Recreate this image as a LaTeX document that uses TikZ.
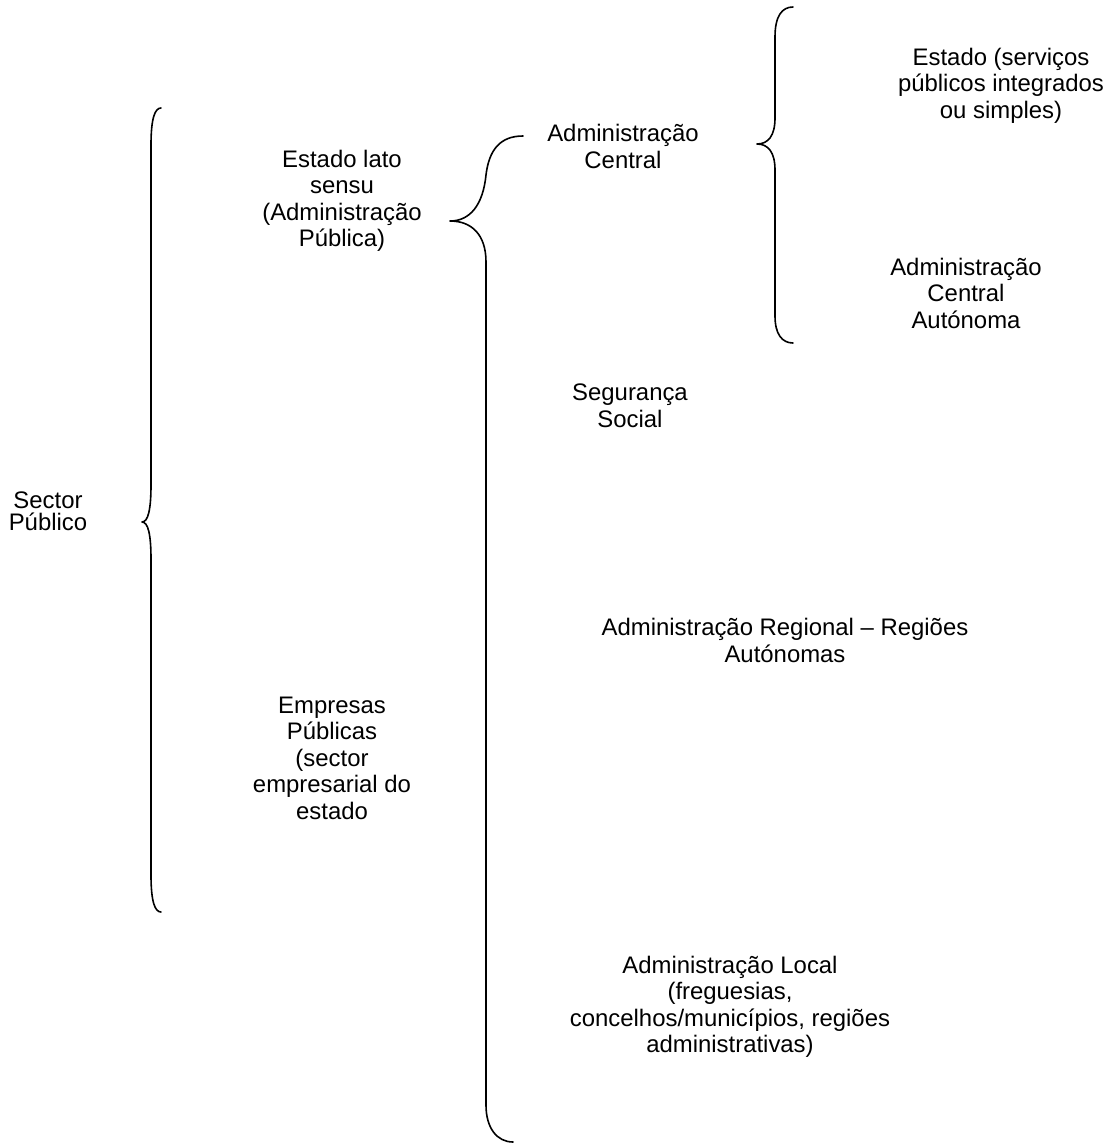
\documentclass[tikz,border=0pt]{standalone}
\usepackage{fontspec}
\setmainfont{Liberation Sans}
\begin{document}
\begin{tikzpicture}[x=1pt,y=-1pt,
  lbl/.style={align=center, anchor=base, inner sep=0pt,
    font=\fontsize{23.9}{26.5}\selectfont},
  brace/.style={line width=1.6pt, line cap=round, line join=round}]
\useasboundingbox (0,0) rectangle (1117,1144);
\fill[white] (0,0) rectangle (1117,1144);

% labels (each placed at the baseline of its last line)
\node[lbl, font=\fontsize{23.9}{22}\selectfont] (sp) at (48,530) {Sector\\Público};
\node[lbl] (elsu) at (342,246.5) {Estado lato\\sensu\\(Administração\\Pública)};
\node[lbl] (emp) at (332,819) {Empresas\\Públicas\\(sector\\empresarial do\\estado};
\node[lbl] (acen) at (623,168) {Administração\\Central};
\node[lbl] (segs) at (630,427) {Segurança\\Social};
\node[lbl] (areg) at (785,662) {Administração Regional – Regiões\\Autónomas};
\node[lbl] (aloc) at (730,1052.5) {Administração Local\\(freguesias,\\concelhos/municípios, regiões\\administrativas)};
\node[lbl] (est) at (1001,118) {Estado (serviços\\públicos integrados\\ou simples)};
\node[lbl] (acau) at (966,328) {Administração\\Central\\Autónoma};

% outer brace: Sector Público
\draw[brace] (161,108) .. controls (155,108) and (151,118) .. (151,145)
  -- (151,485) .. controls (151,510) and (148,522) .. (142,522)
  .. controls (148,522) and (151,534) .. (151,559)
  -- (151,875) .. controls (151,902) and (155,912) .. (161,912);

% middle brace: Estado lato sensu
\draw[brace] (523,136) .. controls (500,136) and (489,150) .. (486,175)
  .. controls (483,205) and (470,221) .. (450,221)
  .. controls (472,221) and (486,235) .. (486,262)
  -- (486,1105) .. controls (486,1128) and (497,1142) .. (513,1142);

% inner brace: Administração Central
\draw[brace] (793,7) .. controls (782,7) and (775,16) .. (775,37)
  -- (775,118) .. controls (775,136) and (768,144) .. (757,144)
  .. controls (768,144) and (775,152) .. (775,170)
  -- (775,316) .. controls (775,334) and (782,343) .. (793,343);
\end{tikzpicture}
\end{document}
